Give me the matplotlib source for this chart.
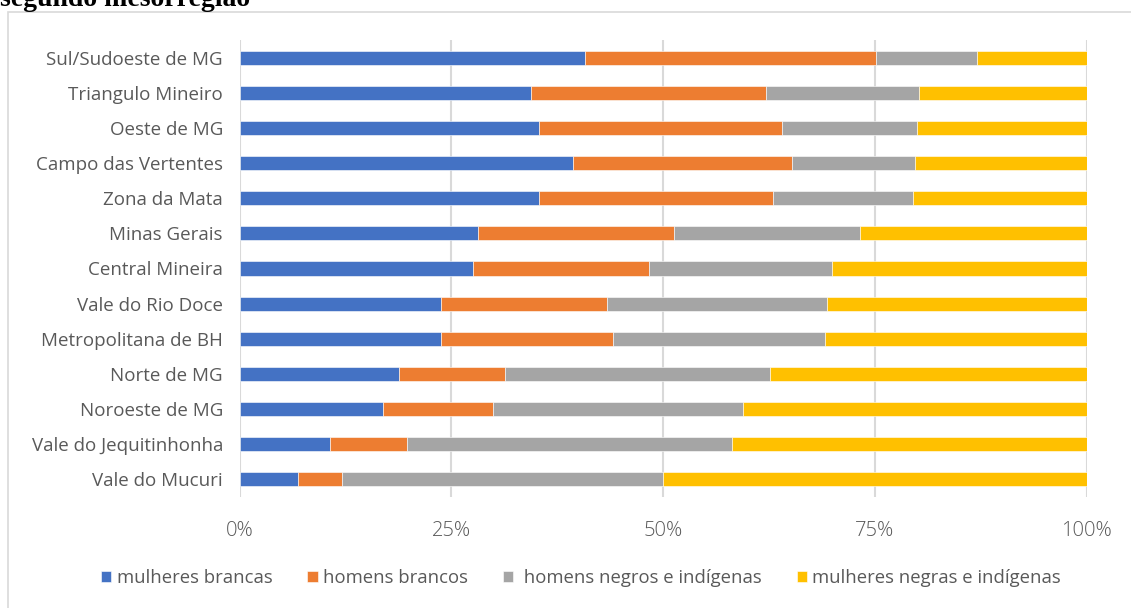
import matplotlib.pyplot as plt
import matplotlib.patches as patches
import matplotlib.ticker as mticker
import numpy as np

regioes = ['Sul/Sudoeste de MG', 'Triangulo Mineiro', 'Oeste de MG', 'Campo das Vertentes',
           'Zona da Mata', 'Minas Gerais', 'Central Mineira', 'Vale do Rio Doce',
           'Metropolitana de BH', 'Norte de MG', 'Noroeste de MG', 'Vale do Jequitinhonha',
           'Vale do Mucuri']

# percent shares per region (top to bottom)
mulheres_brancas = [40.8, 34.4, 35.3, 39.4, 35.3, 28.2, 27.6, 23.8, 23.8, 18.8, 16.9, 10.7, 6.9]
homens_brancos = [34.3, 27.7, 28.8, 25.8, 27.7, 23.1, 20.7, 19.6, 20.3, 12.5, 13.0, 9.1, 5.2]
homens_negros = [12.0, 18.1, 15.9, 14.5, 16.5, 22.0, 21.7, 25.9, 25.0, 31.3, 29.5, 38.3, 37.9]
mulheres_negras = [12.9, 19.8, 20.0, 20.3, 20.5, 26.7, 30.0, 30.8, 30.9, 37.4, 40.6, 41.9, 50.0]

series = [
    ('mulheres brancas', mulheres_brancas, '#4472C4'),
    ('homens brancos', homens_brancos, '#ED7D31'),
    (' homens negros e indígenas', homens_negros, '#A5A5A5'),
    ('mulheres negras e indígenas', mulheres_negras, '#FFC000'),
]

plt.rcParams['font.family'] = ['Open Sans', 'DejaVu Sans']

fig = plt.figure(figsize=(11.31, 6.08), dpi=100)
ax = fig.add_axes([0.2118, 0.1826, 0.7489, 0.7516])

y = np.arange(len(regioes))
left = np.zeros(len(regioes))
for nome, vals, cor in series:
    vals = np.array(vals)
    ax.barh(y, vals, left=left, height=0.4, color=cor, label=nome,
            edgecolor='white', linewidth=0.4, zorder=3)
    left += vals

ax.set_xlim(0, 100)
ax.set_ylim(len(regioes) - 0.5, -0.5)
ax.set_yticks(y)
ax.set_yticklabels(regioes, fontsize=13.5, color='#595959')
ax.set_xticks([0, 25, 50, 75, 100])
ax.xaxis.set_major_formatter(mticker.FuncFormatter(lambda v, p: f'{v:.0f}%'))
ax.tick_params(axis='x', labelsize=14.5, colors='#595959', length=0, pad=17)
ax.tick_params(axis='y', length=0, pad=12)
for lbl in ax.get_xticklabels():
    lbl.set_fontweight('light')
ax.grid(axis='x', color='#D9D9D9', linewidth=1.5, zorder=0)
for s in ax.spines.values():
    s.set_visible(False)

fig.legend(loc='center', bbox_to_anchor=(581 / 1131, 1 - 578 / 608), ncol=4,
           frameon=False, fontsize=13.3, handlelength=0.55, handleheight=0.55,
           handletextpad=0.3, columnspacing=1.9, labelcolor='#595959')

fig.patches.append(patches.Rectangle((8 / 1131, -0.01), 1.0, 1 - 12 / 608 + 0.01,
                                     transform=fig.transFigure, fill=False,
                                     edgecolor='#D9D9D9', linewidth=1.2))

fig.text(0.0, 1 - 6 / 608, 'segundo mesorregião', fontsize=20, fontweight='bold',
         family='Liberation Serif', va='baseline', ha='left')

fig.savefig('out.png', dpi=100)
